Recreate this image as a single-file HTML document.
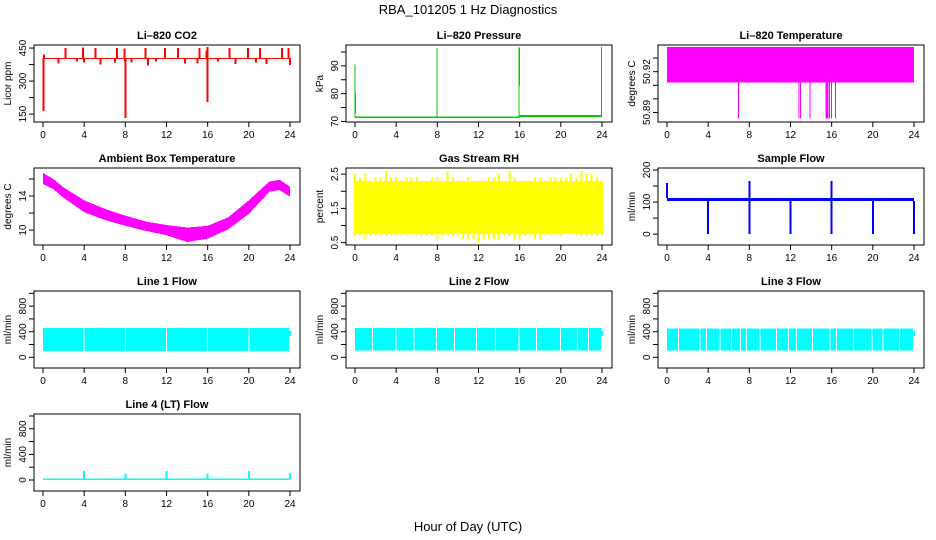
<!DOCTYPE html>
<html><head><meta charset="utf-8"><style>
html,body{margin:0;padding:0;background:#fff}
svg{display:block;font-family:"Liberation Sans",Arial,sans-serif}
</style></head><body>
<svg id="chart" width="936" height="540" viewBox="0 0 936 540">
<text x="468" y="14" text-anchor="middle" font-size="13">RBA_101205  1 Hz Diagnostics</text>
<text x="468" y="531" text-anchor="middle" font-size="13">Hour of Day (UTC)</text>
</svg>
<script>
// ---------- data ----------
const xTicks = [0,4,8,12,16,20,24];
// CO2
const co2Base = 405;
const co2SpikeHours = [0.05,0.1,1.5,2.2,3.3,3.9,4.0,5.1,5.6,7.0,7.2,7.9,7.95,8.0,8.6,9.97,10.2,11.0,11.85,13.1,13.8,15.0,15.2,15.9,15.96,16.0,17.0,18.1,18.7,19.9,20.7,21.1,21.7,23.2,23.85,24.0];
const co2SpikeVals  = [165,420,380,450,390,452,385,450,375,385,450,448,390,132,385,450,370,388,450,450,380,380,450,440,455,206,390,450,378,450,385,450,378,450,450,372];
// Pressure
const presBase = [[0,71.5],[16,72.0],[24,72.0]];
const presSpikeHours = [0.0,0.05,7.98,15.95,16.0,23.95];
const presSpikeLo = [71.5,73,71.5,71.5,83,71.5];
const presSpikeHi = [90.5,80,96.5,96.8,96.5,96.8];
// Li-820 temperature
const ltLo = 50.912, ltHi = 50.938;
const ltDipHours = [6.93,12.83,12.99,13.9,15.45,15.55,15.65,15.77,16.0,16.39];
const ltDipVal = 50.8856;
// Ambient box temperature
const ambHours = [0,1,2,4,6,8,10,12,14,16,18,20,22,23,24];
const ambHi = [16.7,16.0,15.0,13.5,12.5,11.7,11.0,10.6,10.3,10.5,11.5,13.5,15.7,15.9,15.1];
const ambLo = [15.4,14.8,13.8,12.1,11.2,10.5,9.9,9.4,8.6,9.0,10.1,11.9,14.5,14.7,13.9];
// Gas stream RH
const rhHours = [0,0.5,1,1.5,2,2.5,3,3.5,4,4.5,5,5.5,6,6.5,7,7.5,8,8.5,9,9.5,10,10.5,11,11.5,12,12.5,13,13.5,14,14.5,15,15.5,16,16.5,17,17.5,18,18.5,19,19.5,20,20.5,21,21.5,22,22.5,23,23.5,24];
const rhHi = [2.5,2.4,2.5,2.3,2.4,2.4,2.6,2.4,2.4,2.3,2.4,2.4,2.4,2.3,2.3,2.4,2.4,2.3,2.6,2.4,2.3,2.3,2.4,2.3,2.2,2.3,2.4,2.4,2.5,2.3,2.6,2.4,2.3,2.3,2.3,2.4,2.4,2.3,2.4,2.4,2.4,2.4,2.5,2.4,2.6,2.5,2.5,2.4,2.3];
const rhLo = [0.7,0.7,0.6,0.7,0.7,0.7,0.7,0.7,0.7,0.7,0.7,0.7,0.7,0.7,0.7,0.7,0.6,0.7,0.7,0.7,0.7,0.6,0.6,0.6,0.5,0.6,0.6,0.6,0.6,0.7,0.7,0.6,0.6,0.7,0.7,0.6,0.6,0.7,0.7,0.7,0.7,0.8,0.8,0.7,0.7,0.7,0.7,0.7,0.7];
// Sample flow
const sfBaseLo = 103, sfBaseHi = 113;
const sfDipHours = [4.0,8.0,12.0,16.0,20.0,24.0];
const sfDipVals = [0,0,0,0,0,0];
const sfSpikeHours = [0.0,8.0,16.0];
const sfSpikeVals = [160,165,165];
// Line flows
const l1Lo = 100, l1Hi = 460;
const l1Gaps = [4.0,8.0,12.0,16.0,20.0];
const l2Lo = 110, l2Hi = 460;
const l2Gaps = [1.69,4.0,5.73,7.94,9.65,11.8,13.66,15.93,17.65,19.98,21.6,22.7];
const l3Lo = 110, l3Hi = 450;
const l3Gaps = [1.1,3.2,3.86,5.15,6.28,7.16,7.74,9.04,10.66,11.8,12.6,14.15,15.84,16.49,18.1,19.9,21.0,22.6];
const l4Base = 10;
const l4SpikeHours = [4.0,8.0,12.0,16.0,20.0,24.0];
const l4SpikeVals = [140,100,140,100,140,110];

// ---------- layout ----------
const NS = "http://www.w3.org/2000/svg";
const svg = document.getElementById('chart');
const colBox = [34,346,658], rowTop = [45,168,291,414], BW = 266, BH = 77;
function mk(tag, attrs, parent){const e=document.createElementNS(NS,tag);for(const k in attrs)e.setAttribute(k,attrs[k]);(parent||svg).appendChild(e);return e;}

function panel(name, title, col, row, ymin, ymax, yTicks, yLabels, ytitle){
  const g = mk('g',{});
  
  
  const L = colBox[col], T = rowTop[row], B = T+BH, R = L+BW;
  const x = h => L + 9 + h/24*247;
  const y = v => B - (v-ymin)/(ymax-ymin)*BH;
  const t = mk('text',{x:(L+R)/2,y:T-6,'text-anchor':'middle','font-size':11,'font-weight':'bold'},g);
  t.textContent = title;
  
  
  const plot = mk('g',{'shape-rendering':'crispEdges'},g);
  
  
  const box = mk('rect',{x:L,y:T,width:BW,height:BH,fill:'none',stroke:'#000','stroke-width':1},g);
  
  
  const xa = mk('g',{stroke:'#000','font-size':10},g);
  
  
  xTicks.forEach(h=>{
    mk('line',{x1:x(h),x2:x(h),y1:B,y2:B+5},xa);
    const tl = mk('text',{x:x(h),y:B+16,'text-anchor':'middle',stroke:'none'},xa);
    tl.textContent = h;
  });
  const ya = mk('g',{stroke:'#000','font-size':10},g);
  
  
  yTicks.forEach(v=>{ mk('line',{x1:L-5,x2:L,y1:y(v),y2:y(v)},ya); });
  yLabels.forEach(v=>{
    const tl = mk('text',{x:0,y:0,'text-anchor':'middle',stroke:'none',transform:`translate(${L-8},${y(v)}) rotate(-90)`},ya);
    tl.textContent = v;
  });
  const yt = mk('text',{x:0,y:0,'text-anchor':'middle','font-size':10,transform:`translate(${L-23},${(T+B)/2}) rotate(-90)`},g);
  yt.textContent = ytitle;
  
  
  return {x,y,plot};
}
function vline(p,h,v1,v2,color,w){mk('line',{x1:p.x(h),x2:p.x(h),y1:p.y(v1),y2:p.y(v2),stroke:color,'stroke-width':w||1},p.plot);}
function hband(p,h1,h2,v1,v2,color){const a=p.y(v1),b=p.y(v2);mk('rect',{x:p.x(h1),y:Math.min(a,b),width:p.x(h2)-p.x(h1),height:Math.max(1,Math.abs(a-b)),fill:color},p.plot);}

// CO2
let p = panel('co2-panel','Li\u2013820 CO2',0,0,114,464,[150,225,300,375,450],[150,300,450],'Licor ppm');
hband(p,0,24,co2Base-3,co2Base+1,'#f00');
co2SpikeHours.forEach((h,i)=>vline(p,h,co2Base,co2SpikeVals[i],'#f00',2));
// Pressure
p = panel('pressure-panel','Li\u2013820 Pressure',1,0,69.8,97.5,[70,75,80,85,90,95],[70,80,90],'kPa');
for(let i=0;i<presBase.length-1;i++) hband(p,presBase[i][0],presBase[i+1][0],presBase[i][1]-0.35,presBase[i][1]+0.35,'#0c0');
presSpikeHours.forEach((h,i)=>vline(p,h,presSpikeLo[i],presSpikeHi[i],'#0c0',1));
// Li-820 temperature
p = panel('li820-temp-panel','Li\u2013820 Temperature',2,0,50.883,50.9396,[50.89,50.9,50.91,50.92,50.93],['50.89','50.92'],'degrees C');
hband(p,0,24,ltLo,ltHi,'#f0f');
ltDipHours.forEach(h=>vline(p,h,ltLo,ltDipVal,'#f0f',1));
// Ambient
p = panel('ambient-temp-panel','Ambient Box Temperature',0,1,8.25,17.29,[10,12,14,16],[10,14],'degrees C');
{let pts=ambHours.map((h,i)=>p.x(h)+','+p.y(ambHi[i]));
 pts=pts.concat(ambHours.slice().reverse().map((h,k)=>p.x(h)+','+p.y(ambLo[ambHours.length-1-k])));
 mk('polygon',{points:pts.join(' '),fill:'#f0f'},p.plot);}
// RH
p = panel('gas-rh-panel','Gas Stream RH',1,1,0.43,2.68,[0.5,1,1.5,2,2.5],['0.5','1.5','2.5'],'percent');
hband(p,0,24,0.75,2.3,'#ff0');
rhHours.forEach((h,i)=>{vline(p,h,rhLo[i],rhHi[i],'#ff0',2);});
// Sample flow
p = panel('sample-flow-panel','Sample Flow',2,1,-33.8,206,[0,50,100,150,200],[0,100,200],'ml/min');
hband(p,0,24,sfBaseLo,sfBaseHi,'#00f');
sfDipHours.forEach((h,i)=>vline(p,h,sfBaseLo,sfDipVals[i],'#00f',2));
sfSpikeHours.forEach((h,i)=>vline(p,h,sfBaseHi,sfSpikeVals[i],'#00f',2));
// Line flows
const flowTicks=[0,200,400,600,800,1000], flowLabels=[0,400,800];
function flowPanel(name,title,col,row,ymin,ymax,lo,hi,gaps){
  const q = panel(name,title,col,row,ymin,ymax,flowTicks,flowLabels,'ml/min');
  hband(q,0,23.9,lo,hi,'#0ff');
  hband(q,23.9,24.1,330,410,'#0ff');
  gaps.forEach(h=>vline(q,h,lo-20,hi+20,'#fff',1));
}
flowPanel('line1-flow-panel','Line 1 Flow',0,2,-167,1036,l1Lo,l1Hi,l1Gaps);
flowPanel('line2-flow-panel','Line 2 Flow',1,2,-167,1036,l2Lo,l2Hi,l2Gaps);
flowPanel('line3-flow-panel','Line 3 Flow',2,2,-167,1036,l3Lo,l3Hi,l3Gaps);
p = panel('line4-flow-panel','Line 4 (LT) Flow',0,3,-172,1031,flowTicks,flowLabels,'ml/min');
hband(p,0,24,l4Base-12,l4Base+12,'#0ff');
l4SpikeHours.forEach((h,i)=>vline(p,h,l4Base,l4SpikeVals[i],'#0ff',2));
</script>
</body></html>
